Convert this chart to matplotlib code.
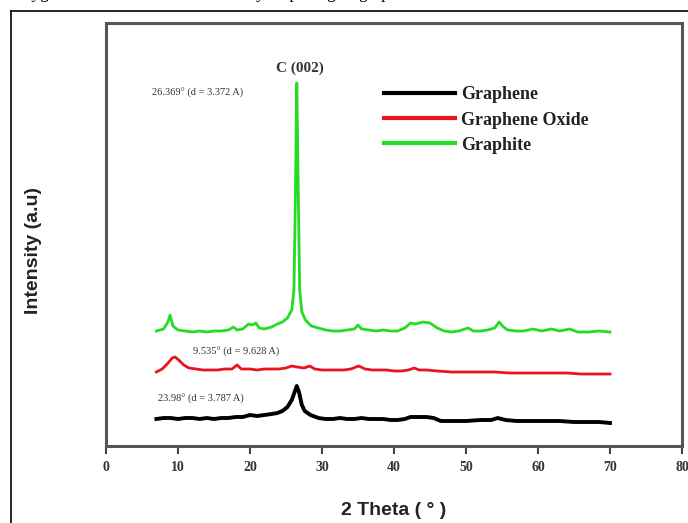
import matplotlib
matplotlib.use("Agg")
import matplotlib.pyplot as plt
from matplotlib.lines import Line2D

# ---- data (2theta in degrees, intensity in arbitrary units) ----
graphite_x = [7.0, 8.0, 8.6, 8.9, 9.3, 10, 11, 12, 13, 14, 15, 16, 17, 17.7, 18.2, 19, 19.8, 20.3,
              20.8, 21.3, 22, 23, 23.8, 24.5, 25.2, 25.8, 26.1, 26.3, 26.5, 26.7, 26.9, 27.2, 27.7,
              28.5, 29.5, 30.5, 31.5, 32.5, 33.5, 34.5, 35.0, 35.5, 36.5, 37.5, 38.5, 39.5, 40.5,
              41.5, 42.3, 43, 44, 45, 46, 47, 48, 49, 50.3, 51, 52, 53, 54, 54.6, 55.2, 55.8, 57,
              58, 59.3, 60.5, 61.9, 63, 64.4, 65.5, 67, 68.5, 70]
graphite_y = [115, 117, 124, 131, 120, 116, 115, 114, 115, 114, 115, 115, 116, 119, 116, 117, 122,
              121, 123, 118, 117, 119, 122, 124, 128, 136, 156, 246, 363, 256, 156, 134, 126,
              120, 118, 116, 115, 115, 116, 117, 121, 117, 116, 115, 116, 115, 115,
              118, 123, 122, 124, 123, 118, 115, 114, 115, 118, 115, 115, 116, 118, 124, 119, 116, 115,
              115, 117, 115, 117, 115, 117, 114, 114, 115, 114]

go_x = [7.0, 7.8, 8.5, 9.2, 9.6, 10.1, 10.8, 11.5, 12.5, 13.5, 14.5, 15.5, 16.5, 17.5, 18.2, 18.8,
        20, 21, 22, 23, 24, 25, 25.8, 26.5, 27.5, 28.3, 29, 30, 31, 32, 33, 34, 35.1, 36, 37, 38,
        39, 40, 41, 42, 42.8, 43.5, 44.5, 46, 48, 50, 52, 54, 56, 58, 60, 62, 64, 66, 68, 70]
go_y = [74, 77, 82, 88, 89, 86, 81, 78, 77, 76, 76, 76, 77, 77, 81, 77,
        77, 76, 77, 77, 77, 78, 80, 79, 78, 80, 77, 76, 76, 76, 76, 77, 80, 77, 76, 76,
        76, 75, 75, 76, 78, 76, 76, 75, 74, 74, 74, 74, 73, 73, 73, 73, 73, 72, 72, 72]

graphene_x = [7.0, 8, 9, 10, 11, 12, 13, 14, 15, 16, 17, 18, 19, 20, 21, 22, 23, 23.8, 24.5, 25.2,
              25.8, 26.2, 26.5, 26.8, 27.2, 27.6, 28.4, 29.5, 30.5, 31.5, 32.5, 33.5, 34.5, 35.5,
              36.5, 37.5, 38.5, 39.5, 40.5, 41.5, 42.3, 43.5, 44.5, 45.5, 46.5, 48, 50, 52, 53.5,
              54.4, 55.5, 57, 59, 61, 63, 65, 67, 68.5, 70]
graphene_y = [27, 28, 28, 27, 28, 28, 27, 28, 27, 28, 28, 29, 29, 31, 30, 31, 32, 33, 35, 39,
              46, 54, 60, 54, 41, 35, 31, 28, 27, 27, 28, 27, 27, 28,
              27, 27, 27, 26, 26, 27, 29, 29, 29, 28, 25, 25, 25, 26, 26,
              28, 26, 25, 25, 25, 25, 24, 24, 24, 23]

series_labels = ["Graphene", "Graphene Oxide", "Graphite"]
x_ticks = [0, 10, 20, 30, 40, 50, 60, 70, 80]

annotations = [
    ("C (002)", 26.9, 378),
    ("26.369\u00b0 (d = 3.372 A)", 6.4, 353),
    ("9.535\u00b0 (d = 9.628 A)", 12.1, 94),
    ("23.98\u00b0 (d = 3.787 A)", 7.2, 47),
]

# ---- figure ----
fig = plt.figure(figsize=(6.88, 5.23), dpi=100)
ax = fig.add_axes([106 / 688, 77 / 523, 576 / 688, 423 / 523])

ax.plot(graphene_x, graphene_y, color="black", lw=2.8, label=series_labels[0])
ax.plot(go_x, go_y, color="#e8161c", lw=2.0, label=series_labels[1])
ax.plot(graphite_x, graphite_y, color="#22dd22", lw=2.0, label=series_labels[2])

ax.set_xlim(0, 80)
ax.set_ylim(0, 423)
ax.set_xticks(x_ticks)
ax.set_xticklabels([str(t) for t in x_ticks], fontfamily="Liberation Serif",
                   fontweight="bold", fontsize=10, color="#333333")
ax.set_yticks([])
ax.tick_params(axis="x", direction="out", length=6, width=1.5, color="#444444", pad=5)
for s in ax.spines.values():
    s.set_linewidth(2.2)
    s.set_color("#555555")

ax.set_xlabel("2 Theta ( \u00b0 )", fontfamily="Liberation Sans", fontweight="bold",
              fontsize=14, labelpad=20, color="#222222")
ax.set_ylabel("Intensity (a.u)", fontfamily="Liberation Sans", fontweight="bold",
              fontsize=14, color="#222222")
ax.yaxis.set_label_coords(-64 / 576, (446 - 251) / 423)

# annotations
t0 = annotations[0]
ax.text(t0[1], t0[2], t0[0], fontfamily="Liberation Serif", fontweight="bold",
        fontsize=11, ha="center", va="center", color="#333333")
for txt, xx, yy in annotations[1:]:
    ax.text(xx, yy, txt, fontfamily="Liberation Serif", fontsize=7.5,
            ha="left", va="center", color="#333333")

leg = ax.legend(loc="upper left", bbox_to_anchor=(0.483, 0.85), frameon=False,
                prop={"family": "Liberation Serif", "weight": "bold", "size": 13},
                handlelength=3.9, handletextpad=0.35, labelspacing=0.45,
                borderpad=0, borderaxespad=0)
for h in leg.legend_handles:
    h.set_linewidth(3)
for t in leg.get_texts():
    t.set_color("#222222")

# page border and clipped text line above the figure
fig.add_artist(Line2D([11 / 688, 11 / 688], [0, 1 - 11 / 523], color="black", lw=1.2))
fig.add_artist(Line2D([11 / 688, 1], [1 - 11 / 523, 1 - 11 / 523], color="black", lw=1.2))
fig.text(14 / 688, 1 + 1.5 / 523, "oxygen atoms increased the interlayer spacing of graphite [31].",
         fontfamily="Liberation Serif", fontsize=12.5, ha="left", va="baseline", color="black")

fig.savefig("out.png", dpi=100)
